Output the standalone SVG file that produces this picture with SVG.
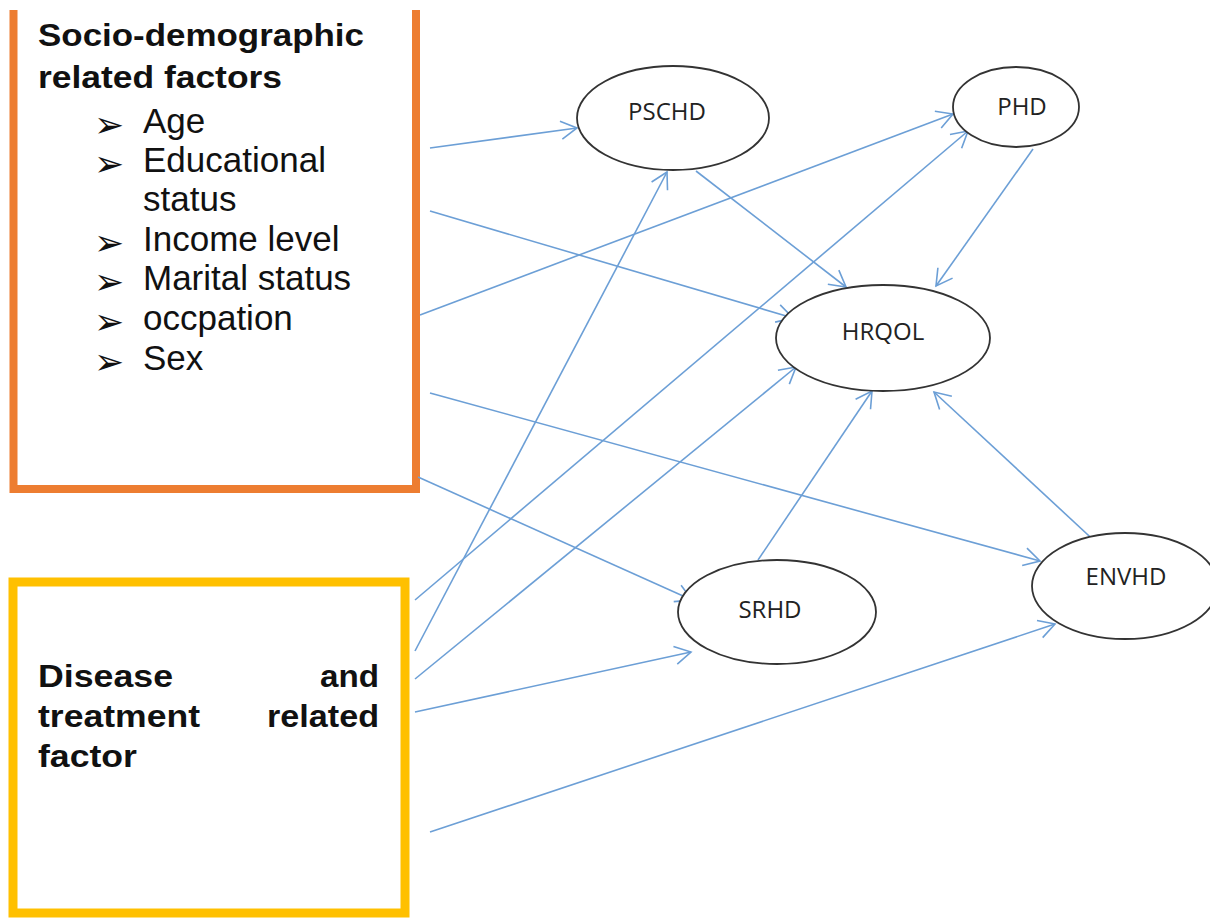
<svg xmlns="http://www.w3.org/2000/svg" width="1210" height="918" viewBox="0 0 1210 918">
<style>
.bold{font-family:"Liberation Sans",Arial,sans-serif;font-weight:bold;font-size:31px;fill:#111}
.item{font-family:"Liberation Sans",Arial,sans-serif;font-size:35px;fill:#111}
.bul{font-family:"DejaVu Sans",sans-serif;font-size:36px;fill:#111}
.node{fill:#fff;stroke:#333;stroke-width:1.8}
.lbl{font-family:"Open Sans","Noto Sans",sans-serif;font-size:24px;fill:#222;text-anchor:middle}
.conn line{stroke:#6C9FD6;stroke-width:1.6;fill:none;marker-end:url(#ah)}
</style>
<defs>
<marker id="ah" markerUnits="userSpaceOnUse" viewBox="-18 -11 20 22" markerWidth="20" markerHeight="22" refX="0" refY="0" orient="auto">
<path d="M-16,-9 L0,0 L-16,9" fill="none" stroke="#6C9FD6" stroke-width="1.6"/>
</marker>
</defs>
<rect x="0" y="0" width="1210" height="918" fill="#fff"/>

<g id="socio">
<path d="M13.5,10 V489 H416 V10" fill="none" stroke="#ED7D31" stroke-width="8"/>
<text class="bold" x="38" y="46" textLength="326" lengthAdjust="spacingAndGlyphs">Socio-demographic</text>
<text class="bold" x="38" y="88" textLength="244" lengthAdjust="spacingAndGlyphs">related factors</text>
<text class="bul" x="94" y="137">➢</text><text class="item" x="143" y="133">Age</text>
<text class="bul" x="94" y="176">➢</text><text class="item" x="143" y="172">Educational</text>
<text class="item" x="143" y="211">status</text>
<text class="bul" x="94" y="255">➢</text><text class="item" x="143" y="251">Income level</text>
<text class="bul" x="94" y="294">➢</text><text class="item" x="143" y="290">Marital status</text>
<text class="bul" x="94" y="334">➢</text><text class="item" x="143" y="330">occpation</text>
<text class="bul" x="94" y="374">➢</text><text class="item" x="143" y="370">Sex</text>
</g>

<g id="disease">
<rect x="13" y="582" width="392" height="331" fill="none" stroke="#FFC000" stroke-width="9"/>
<text class="bold" x="38" y="687" font-size="32" textLength="135" lengthAdjust="spacingAndGlyphs">Disease</text>
<text class="bold" x="320" y="687" textLength="59" lengthAdjust="spacingAndGlyphs">and</text>
<text class="bold" x="38" y="727" textLength="162" lengthAdjust="spacingAndGlyphs">treatment</text>
<text class="bold" x="267" y="727" textLength="112" lengthAdjust="spacingAndGlyphs">related</text>
<text class="bold" x="38" y="767" textLength="99" lengthAdjust="spacingAndGlyphs">factor</text>
</g>

<g id="conn" class="conn">
<line x1="430" y1="148" x2="577" y2="128"/>
<line x1="430" y1="211" x2="793" y2="318"/>
<line x1="420" y1="315" x2="953" y2="114"/>
<line x1="430" y1="393" x2="1040" y2="561"/>
<line x1="418" y1="477" x2="692" y2="600"/>
<line x1="415" y1="600" x2="968" y2="131"/>
<line x1="415" y1="651" x2="667" y2="172"/>
<line x1="415" y1="679" x2="796" y2="367"/>
<line x1="415" y1="712" x2="691" y2="652"/>
<line x1="430" y1="832" x2="1055" y2="624"/>
<line x1="696" y1="171" x2="846" y2="287"/>
<line x1="1033" y1="149" x2="936" y2="286"/>
<line x1="758" y1="560" x2="872" y2="391"/>
<line x1="1101" y1="547" x2="934" y2="392"/>
</g>

<g id="PSCHD"><ellipse class="node" cx="673" cy="118" rx="96" ry="52"/><text class="lbl" x="667" y="120">PSCHD</text></g>
<g id="PHD"><ellipse class="node" cx="1016" cy="107" rx="63" ry="40"/><text class="lbl" x="1022" y="115">PHD</text></g>
<g id="HRQOL"><ellipse class="node" cx="883" cy="338" rx="107" ry="53"/><text class="lbl" x="883" y="340">HRQOL</text></g>
<g id="SRHD"><ellipse class="node" cx="777" cy="612" rx="99" ry="52"/><text class="lbl" x="770" y="618">SRHD</text></g>
<g id="ENVHD"><ellipse class="node" cx="1125" cy="586" rx="93" ry="53"/><text class="lbl" x="1126" y="585">ENVHD</text></g>
</svg>
